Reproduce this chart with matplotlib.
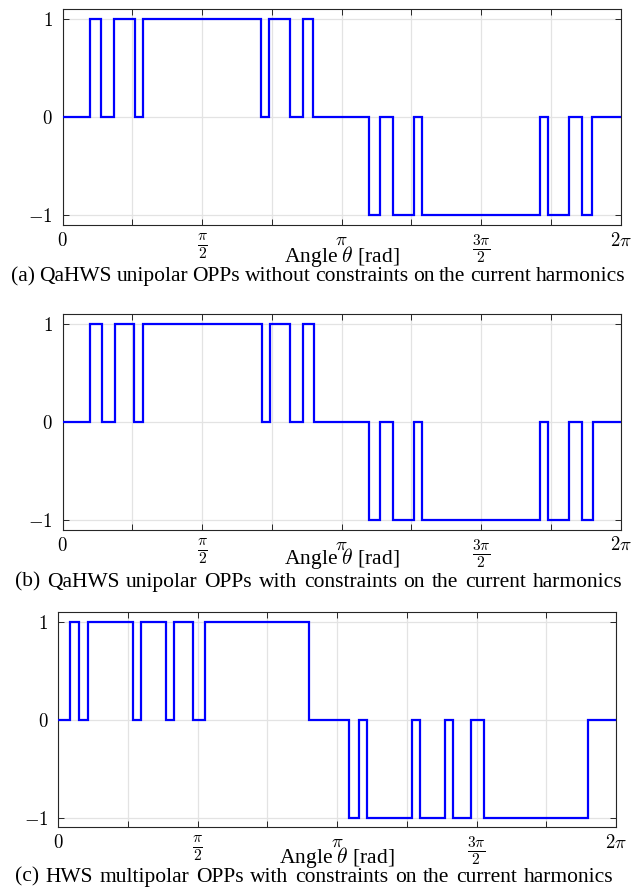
import numpy as np
import matplotlib
matplotlib.use("Agg")
import matplotlib.pyplot as plt

plt.rcParams["font.family"] = ["Liberation Serif", "DejaVu Serif"]
plt.rcParams["mathtext.fontset"] = "cm"

# switching angles [rad] and the output level right after each switch
edges_a = [0.311, 0.435, 0.581, 0.814, 0.908, 2.233, 2.326, 2.559, 2.706, 2.822,
           3.452, 3.573, 3.723, 3.956, 4.046, 5.375, 5.468, 5.700, 5.847, 5.964]
levels_a = [1, 0, 1, 0, 1, 0, 1, 0, 1, 0, -1, 0, -1, 0, -1, 0, -1, 0, -1, 0]

edges_b = [0.313, 0.437, 0.587, 0.804, 0.903, 2.240, 2.335, 2.558, 2.707, 2.831,
           3.452, 3.576, 3.723, 3.959, 4.049, 5.378, 5.465, 5.698, 5.847, 5.971]
levels_b = [1, 0, 1, 0, 1, 0, 1, 0, 1, 0, -1, 0, -1, 0, -1, 0, -1, 0, -1, 0]

edges_c = [0.139, 0.240, 0.334, 0.848, 0.935, 1.216, 1.303, 1.520, 1.659, 2.826,
           3.280, 3.386, 3.483, 3.986, 4.076, 4.358, 4.444, 4.654, 4.797, 5.964]
levels_c = [1, 0, 1, 0, 1, 0, 1, 0, 1, 0, -1, 0, -1, 0, -1, 0, -1, 0, -1, 0]

xtick_labels = ["$0$", "", r"$\frac{\pi}{2}$", "", r"$\pi$", "",
                r"$\frac{3\pi}{2}$", "", r"$2\pi$"]
ytick_labels = ["$-1$", "$0$", "$1$"]

captions = [
    "(a) QaHWS unipolar OPPs without constraints on the current harmonics",
    "(b) QaHWS unipolar OPPs with constraints on the current harmonics",
    "(c) HWS multipolar OPPs with constraints on the current harmonics",
]

W, H = 641, 888
fig = plt.figure(figsize=(W / 100, H / 100), dpi=100)


def px_box(l, r, t, b):
    return [l / W, 1 - b / H, (r - l) / W, (b - t) / H]


# (left, right, top, bottom) in pixels, xlabel baseline, caption baseline, caption span
panels = [
    (edges_a, levels_a, (62.7, 620.7, 9.3, 225.3), 262, 281, (10.7, 625)),
    (edges_b, levels_b, (62.7, 620.7, 314.3, 530), 564, 586.5, (15, 622)),
    (edges_c, levels_c, (58, 616, 611.7, 827.3), 863, 881.5, (15, 613)),
]

renderer = fig.canvas.get_renderer()


def justified(y, x0, x1, text, size):
    words = text.split(" ")
    arts = [fig.text(0, 1 - y / H, w, fontsize=size, va="baseline", ha="left")
            for w in words]
    widths = [a.get_window_extent(renderer).width for a in arts]
    gap = max((x1 - x0 - sum(widths)) / (len(words) - 1), 3.0)
    x = x0
    for a, w in zip(arts, widths):
        a.set_x(x / W)
        x += w + gap


for (edges, levels, box, lab_y, cap_y, span), cap in zip(panels, captions):
    ax = fig.add_axes(px_box(*box))
    ax.stairs([0] + levels, [0] + edges + [2 * np.pi], baseline=None,
              color="#0000ff", lw=1.6, zorder=3)
    ax.set_xlim(0, 2 * np.pi)
    ax.set_ylim(-1.1, 1.1)
    ax.set_xticks(np.arange(9) * np.pi / 4)
    ax.set_xticklabels(xtick_labels, fontsize=13.5)
    for t in ax.get_xticklabels():
        if "frac" in t.get_text():
            t.set_fontsize(16)
    ax.set_yticks([-1, 0, 1])
    ax.set_yticklabels(ytick_labels, fontsize=13.5)
    ax.tick_params(direction="in", top=True, right=True, length=4, width=0.7,
                   color="#262626")
    ax.tick_params(axis="x", pad=5)
    ax.tick_params(axis="y", pad=7)
    ax.grid(True, color="#e3e3e3", lw=0.9)
    ax.set_axisbelow(True)
    for s in ax.spines.values():
        s.set_color("#262626")
        s.set_linewidth(0.8)
    xc = (box[0] + box[1]) / 2
    fig.text(xc / W, 1 - lab_y / H, r"Angle $\theta$ [rad]", fontsize=15.5,
             ha="center", va="baseline")
    justified(cap_y, span[0], span[1], cap, 15.5)

fig.savefig("out.png", dpi=100)
